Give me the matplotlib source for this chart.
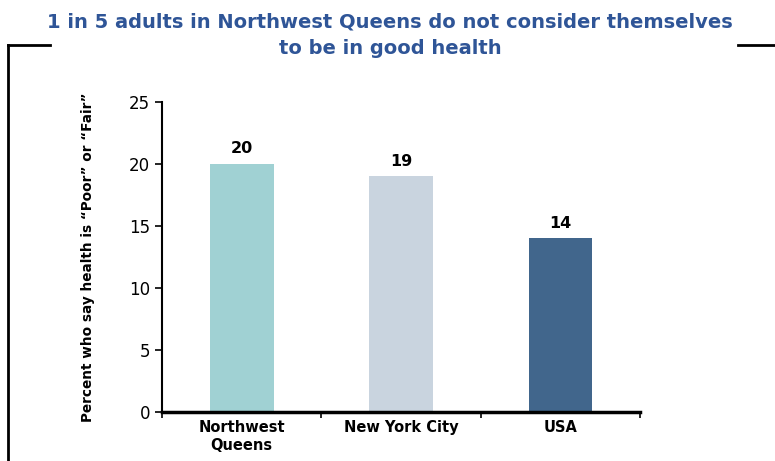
import matplotlib
matplotlib.use("Agg")
import matplotlib.pyplot as plt
from matplotlib.lines import Line2D

categories = ["Northwest\nQueens", "New York City", "USA"]
values = [20, 19, 14]
colors = ["#A0D1D3", "#C9D4DF", "#41668C"]
yticks = [0, 5, 10, 15, 20, 25]

plt.rcParams['font.family'] = ['DejaVu Sans']

fig = plt.figure(figsize=(7.75, 4.61), dpi=100)
ax = fig.add_axes([0.209, 0.106, 0.617, 0.673])

x = list(range(len(categories)))
bars = ax.bar(x, values, width=0.4, color=colors)
for xi, v in zip(x, values):
    ax.text(xi, v + 0.6, f"{v}", ha="center", va="bottom", fontsize=11.5, fontweight="bold")

ax.set_xlim(-0.5, len(categories) - 0.5)
ax.set_ylim(0, 25)
ax.set_yticks(yticks)
ax.tick_params(axis='y', labelsize=12, length=5, width=1.2, direction='out')
ax.set_xticks([i - 0.5 for i in range(len(categories) + 1)])
ax.set_xticklabels([])
ax.set_xticks(x, minor=True)
ax.set_xticklabels(categories, minor=True, fontsize=10.5, fontweight="bold", linespacing=1.25)
ax.tick_params(axis='x', which='major', length=4, width=1.2)
ax.tick_params(axis='x', which='minor', length=0, pad=6)

for s in ["top", "right"]:
    ax.spines[s].set_visible(False)
ax.spines["left"].set_linewidth(1.5)
ax.spines["bottom"].set_linewidth(2.5)

ax.set_ylabel("Percent who say health is \u201cPoor\u201d or \u201cFair\u201d", fontsize=9.8,
              fontweight="bold")
ax.yaxis.set_label_coords(-0.14, 0.5)

fig.text(0.503, 1 - 12 / 461, "1 in 5 adults in Northwest Queens do not consider themselves\nto be in good health",
         ha="center", va="top", fontsize=14, fontweight="bold", color="#2F5597", linespacing=1.55)

# decorative frame
y_frame = 1 - 45 / 461
fig.add_artist(Line2D([8 / 775, 50 / 775], [y_frame, y_frame], color="black", lw=2, transform=fig.transFigure))
fig.add_artist(Line2D([738 / 775, 1.0], [y_frame, y_frame], color="black", lw=2, transform=fig.transFigure))
fig.add_artist(Line2D([8 / 775, 8 / 775], [y_frame, 0], color="black", lw=2, transform=fig.transFigure))

fig.savefig("out.png", dpi=100)
